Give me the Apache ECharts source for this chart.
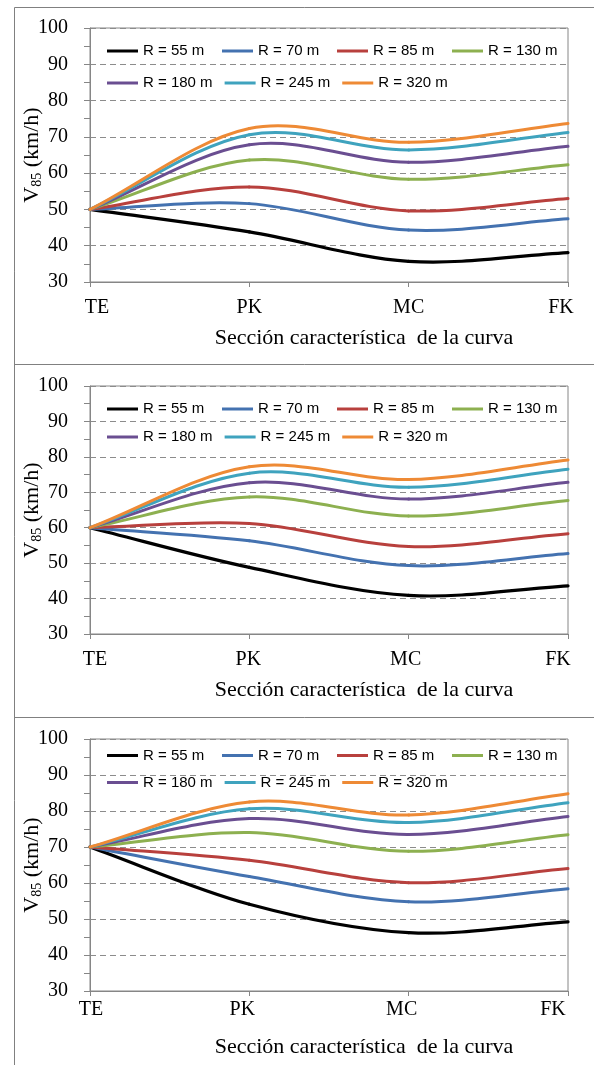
<!DOCTYPE html>
<html>
<head>
<meta charset="utf-8">
<script src="https://cdn.jsdelivr.net/npm/echarts@6/dist/echarts.min.js"></script>
<style>
html,body{margin:0;padding:0;background:#fff;}
#chart{width:594px;height:1065px;}
</style>
</head>
<body>
<div id="chart"></div>
<script>
// ---- data ----
const categories = ['TE', 'PK', 'MC', 'FK'];
const seriesNames = ['R = 55 m', 'R = 70 m', 'R = 85 m', 'R = 130 m', 'R = 180 m', 'R = 245 m', 'R = 320 m'];
const yTicks = [30, 40, 50, 60, 70, 80, 90, 100];

// Panel 1: entry speed 50 km/h
const panel1 = [
  [50, 43.8, 35.7, 38.1],
  [50, 51.6, 44.3, 47.4],
  [50, 56.2, 49.6, 53.0],
  [50, 63.6, 58.3, 62.3],
  [50, 67.8, 63.0, 67.4],
  [50, 70.6, 66.4, 71.2],
  [50, 72.3, 68.5, 73.7]
];
// Panel 2: entry speed 60 km/h
const panel2 = [
  [60, 48.8, 40.9, 43.6],
  [60, 56.3, 49.3, 52.7],
  [60, 61.2, 54.7, 58.3],
  [60, 68.7, 63.3, 67.7],
  [60, 72.7, 68.1, 72.8],
  [60, 75.4, 71.4, 76.5],
  [60, 77.2, 73.6, 79.1]
];
// Panel 3: entry speed 70 km/h
const panel3 = [
  [70, 54.1, 46.2, 49.2],
  [70, 61.8, 54.8, 58.4],
  [70, 66.3, 60.1, 64.0],
  [70, 74.0, 68.8, 73.4],
  [70, 77.9, 73.5, 78.5],
  [70, 80.6, 76.8, 82.3],
  [70, 82.5, 78.9, 84.8]
];
const panels = [panel1, panel2, panel3];

// ---- styling ----
const colors = ['#000000', '#4472B0', '#B8403D', '#8DB050', '#6A4E91', '#3FA3BE', '#EE8A35'];
const serif = 'Liberation Serif, Times New Roman, serif';
const sans = 'Liberation Sans, Arial, sans-serif';
const gray = '#868686';

const layout = [
  { top: 28, height: 254, labelMargin: 16, legendTop: 41, legendLine: 20, labelShift: [7, 0, 0, -7] },
  { top: 386, height: 248, labelMargin: 16, legendTop: 401, legendLine: 16, labelShift: [5, -1, -3, -10] },
  { top: 739, height: 252, labelMargin: 9, legendTop: 748, legendLine: 15, labelShift: [1, -7, -7, -15] }
];

// Excel-like smoothed line: cubic Bezier segments through the data points
function smoothRenderer(vals, color, width) {
  return function (params, api) {
    const i = params.dataIndex;
    const n = vals.length;
    if (i >= n - 1) return null;
    const P = vals.map((v, k) => api.coord([k, v]));
    const tangent = k => {
      if (k === 0) return [P[1][0] - P[0][0], P[1][1] - P[0][1]];
      if (k === n - 1) return [P[n - 1][0] - P[n - 2][0], P[n - 1][1] - P[n - 2][1]];
      return [(P[k + 1][0] - P[k - 1][0]) / 2, (P[k + 1][1] - P[k - 1][1]) / 2];
    };
    const t0 = tangent(i), t1 = tangent(i + 1);
    return {
      type: 'bezierCurve',
      shape: {
        x1: P[i][0], y1: P[i][1],
        x2: P[i + 1][0], y2: P[i + 1][1],
        cpx1: P[i][0] + t0[0] / 3, cpy1: P[i][1] + t0[1] / 3,
        cpx2: P[i + 1][0] - t1[0] / 3, cpy2: P[i + 1][1] - t1[1] / 3
      },
      style: { stroke: color, lineWidth: width, fill: null, lineCap: 'round' }
    };
  };
}

const grids = [], xAxes = [], yAxes = [], legends = [], series = [];

layout.forEach((L, p) => {
  grids.push({
    left: 90, right: 26, top: L.top, height: L.height,
    show: true, borderColor: gray, borderWidth: 1, backgroundColor: 'transparent'
  });
  const rich = {};
  L.labelShift.forEach((s, k) => {
    rich['c' + k] = {
      fontFamily: serif, fontSize: 20, color: '#000',
      padding: s >= 0 ? [0, 0, 0, 2 * s] : [0, -2 * s, 0, 0]
    };
  });
  xAxes.push({
    type: 'category', gridIndex: p, data: categories, boundaryGap: false,
    axisLine: { lineStyle: { color: gray, width: 1 } },
    axisTick: { show: true, length: 5, lineStyle: { color: gray } },
    axisLabel: {
      color: '#000', fontFamily: serif, fontSize: 20, margin: L.labelMargin,
      formatter: function (v, idx) { return '{c' + idx + '|' + v + '}'; },
      rich: rich
    },
    name: 'Sección característica  de la curva',
    nameLocation: 'middle', nameGap: 45, nameMoveOverlap: false,
    nameTextStyle: { color: '#000', fontFamily: serif, fontSize: 22, padding: [0, 0, 0, 70] },
    splitLine: { show: false }
  });
  yAxes.push({
    type: 'value', gridIndex: p, min: yTicks[0], max: yTicks[yTicks.length - 1], interval: 10,
    axisLine: { show: true, lineStyle: { color: gray } },
    axisTick: { show: true, length: 6, lineStyle: { color: gray } },
    minorTick: { show: true, splitNumber: 2, length: 6, lineStyle: { color: gray } },
    axisLabel: { color: '#000', fontFamily: serif, fontSize: 20, margin: 22 },
    splitLine: { show: true, lineStyle: { color: '#8c8c8c', type: [6, 4], width: 1 } },
    name: '{v|V}{s|85}{t| (km/h)}',
    nameLocation: 'middle', nameGap: 46, nameMoveOverlap: false,
    nameTextStyle: {
      rich: {
        v: { fontFamily: serif, fontSize: 22, color: '#000', lineHeight: 24, verticalAlign: 'middle' },
        s: { fontFamily: serif, fontSize: 14, color: '#000', lineHeight: 24, verticalAlign: 'bottom' },
        t: { fontFamily: serif, fontSize: 22, color: '#000', lineHeight: 24, verticalAlign: 'middle' }
      }
    }
  });
  legends.push({
    left: 107, top: L.legendTop, width: 452, padding: 0,
    itemWidth: 31, itemHeight: 3, itemGap: 12,
    icon: 'rect',
    data: seriesNames.map(n => n + '\u200b'.repeat(p)),
    textStyle: { fontFamily: sans, fontSize: 15, color: '#000', width: 67, lineHeight: L.legendLine }
  });
  panels[p].forEach((vals, i) => {
    const w = i === 0 ? 3.2 : 3;
    series.push({
      type: 'custom', name: seriesNames[i] + '\u200b'.repeat(p),
      coordinateSystem: 'cartesian2d',
      xAxisIndex: p, yAxisIndex: p,
      data: vals.map((v, k) => [k, v]),
      encode: { x: 0, y: 1 },
      renderItem: smoothRenderer(vals, colors[i], w),
      itemStyle: { color: colors[i] },
      z: 3 + i
    });
  });
});

const frame = { color: '#808080', width: 1 };
const option = {
  backgroundColor: '#ffffff',
  animation: false,
  grid: grids, xAxis: xAxes, yAxis: yAxes, legend: legends, series: series,
  graphic: [
    { type: 'line', shape: { x1: 14.5, y1: 7.5, x2: 14.5, y2: 1065 }, style: { stroke: frame.color, lineWidth: frame.width }, silent: true },
    { type: 'line', shape: { x1: 14.5, y1: 7.5, x2: 594, y2: 7.5 }, style: { stroke: frame.color, lineWidth: frame.width }, silent: true },
    { type: 'line', shape: { x1: 14.5, y1: 364.5, x2: 594, y2: 364.5 }, style: { stroke: frame.color, lineWidth: frame.width }, silent: true },
    { type: 'line', shape: { x1: 14.5, y1: 717.5, x2: 594, y2: 717.5 }, style: { stroke: frame.color, lineWidth: frame.width }, silent: true }
  ]
};

const chart = echarts.init(document.getElementById('chart'), null, { renderer: 'canvas' });
chart.setOption(option);
</script>
</body>
</html>
